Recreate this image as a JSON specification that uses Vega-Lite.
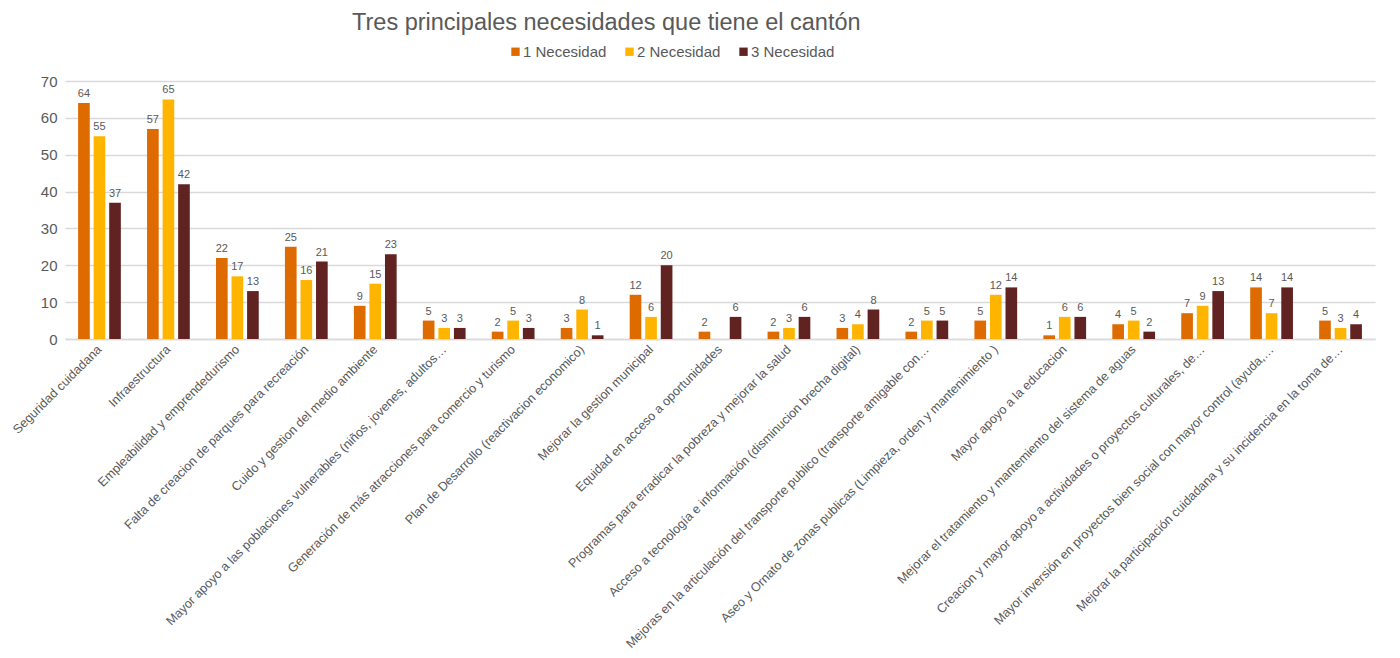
{
  "$schema": "https://vega.github.io/schema/vega-lite/v6.json",
  "autosize": {"type": "none"},
  "width": 1310,
  "height": 258,
  "padding": {"left": 65, "top": 81, "right": 25, "bottom": 319},
  "background": "white",
  "title": {
    "text": "Tres principales necesidades que tiene el cantón",
    "anchor": "start",
    "frame": "group",
    "dx": 287,
    "offset": 10,
    "font": "Liberation Sans",
    "fontSize": 23.5,
    "fontWeight": "normal",
    "color": "#595959"
  },
  "config": {
    "view": {"stroke": null},
    "font": "Liberation Sans"
  },
  "data": {
    "values": [
      {"categoria": "Seguridad cuidadana", "serie": "1 Necesidad", "valor": 64},
      {"categoria": "Seguridad cuidadana", "serie": "2 Necesidad", "valor": 55},
      {"categoria": "Seguridad cuidadana", "serie": "3 Necesidad", "valor": 37},
      {"categoria": "Infraestructura", "serie": "1 Necesidad", "valor": 57},
      {"categoria": "Infraestructura", "serie": "2 Necesidad", "valor": 65},
      {"categoria": "Infraestructura", "serie": "3 Necesidad", "valor": 42},
      {"categoria": "Empleabilidad y emprendedurismo", "serie": "1 Necesidad", "valor": 22},
      {"categoria": "Empleabilidad y emprendedurismo", "serie": "2 Necesidad", "valor": 17},
      {"categoria": "Empleabilidad y emprendedurismo", "serie": "3 Necesidad", "valor": 13},
      {"categoria": "Falta de creacion de parques para recreación", "serie": "1 Necesidad", "valor": 25},
      {"categoria": "Falta de creacion de parques para recreación", "serie": "2 Necesidad", "valor": 16},
      {"categoria": "Falta de creacion de parques para recreación", "serie": "3 Necesidad", "valor": 21},
      {"categoria": "Cuido y gestion del medio ambiente", "serie": "1 Necesidad", "valor": 9},
      {"categoria": "Cuido y gestion del medio ambiente", "serie": "2 Necesidad", "valor": 15},
      {"categoria": "Cuido y gestion del medio ambiente", "serie": "3 Necesidad", "valor": 23},
      {"categoria": "Mayor apoyo a las poblaciones vulnerables (niños, jovenes, adultos…", "serie": "1 Necesidad", "valor": 5},
      {"categoria": "Mayor apoyo a las poblaciones vulnerables (niños, jovenes, adultos…", "serie": "2 Necesidad", "valor": 3},
      {"categoria": "Mayor apoyo a las poblaciones vulnerables (niños, jovenes, adultos…", "serie": "3 Necesidad", "valor": 3},
      {"categoria": "Generación de más atracciones para comercio y turismo", "serie": "1 Necesidad", "valor": 2},
      {"categoria": "Generación de más atracciones para comercio y turismo", "serie": "2 Necesidad", "valor": 5},
      {"categoria": "Generación de más atracciones para comercio y turismo", "serie": "3 Necesidad", "valor": 3},
      {"categoria": "Plan de Desarrollo  (reactivacion economico)", "serie": "1 Necesidad", "valor": 3},
      {"categoria": "Plan de Desarrollo  (reactivacion economico)", "serie": "2 Necesidad", "valor": 8},
      {"categoria": "Plan de Desarrollo  (reactivacion economico)", "serie": "3 Necesidad", "valor": 1},
      {"categoria": "Mejorar la gestion municipal", "serie": "1 Necesidad", "valor": 12},
      {"categoria": "Mejorar la gestion municipal", "serie": "2 Necesidad", "valor": 6},
      {"categoria": "Mejorar la gestion municipal", "serie": "3 Necesidad", "valor": 20},
      {"categoria": "Equidad en acceso a  oportunidades", "serie": "1 Necesidad", "valor": 2},
      {"categoria": "Equidad en acceso a  oportunidades", "serie": "3 Necesidad", "valor": 6},
      {"categoria": "Programas para erradicar la pobreza y mejorar la salud", "serie": "1 Necesidad", "valor": 2},
      {"categoria": "Programas para erradicar la pobreza y mejorar la salud", "serie": "2 Necesidad", "valor": 3},
      {"categoria": "Programas para erradicar la pobreza y mejorar la salud", "serie": "3 Necesidad", "valor": 6},
      {"categoria": "Acceso a tecnología e información (disminucion brecha digital)", "serie": "1 Necesidad", "valor": 3},
      {"categoria": "Acceso a tecnología e información (disminucion brecha digital)", "serie": "2 Necesidad", "valor": 4},
      {"categoria": "Acceso a tecnología e información (disminucion brecha digital)", "serie": "3 Necesidad", "valor": 8},
      {"categoria": "Mejoras en la articulación del transporte publico (transporte amigable con…", "serie": "1 Necesidad", "valor": 2},
      {"categoria": "Mejoras en la articulación del transporte publico (transporte amigable con…", "serie": "2 Necesidad", "valor": 5},
      {"categoria": "Mejoras en la articulación del transporte publico (transporte amigable con…", "serie": "3 Necesidad", "valor": 5},
      {"categoria": "Aseo y Ornato de zonas publicas (Limpieza, orden y mantenimiento )", "serie": "1 Necesidad", "valor": 5},
      {"categoria": "Aseo y Ornato de zonas publicas (Limpieza, orden y mantenimiento )", "serie": "2 Necesidad", "valor": 12},
      {"categoria": "Aseo y Ornato de zonas publicas (Limpieza, orden y mantenimiento )", "serie": "3 Necesidad", "valor": 14},
      {"categoria": "Mayor apoyo a la educacion", "serie": "1 Necesidad", "valor": 1},
      {"categoria": "Mayor apoyo a la educacion", "serie": "2 Necesidad", "valor": 6},
      {"categoria": "Mayor apoyo a la educacion", "serie": "3 Necesidad", "valor": 6},
      {"categoria": "Mejorar el tratamiento y mantemiento del sistema de aguas", "serie": "1 Necesidad", "valor": 4},
      {"categoria": "Mejorar el tratamiento y mantemiento del sistema de aguas", "serie": "2 Necesidad", "valor": 5},
      {"categoria": "Mejorar el tratamiento y mantemiento del sistema de aguas", "serie": "3 Necesidad", "valor": 2},
      {"categoria": "Creacion y mayor apoyo  a actividades  o proyectos culturales, de…", "serie": "1 Necesidad", "valor": 7},
      {"categoria": "Creacion y mayor apoyo  a actividades  o proyectos culturales, de…", "serie": "2 Necesidad", "valor": 9},
      {"categoria": "Creacion y mayor apoyo  a actividades  o proyectos culturales, de…", "serie": "3 Necesidad", "valor": 13},
      {"categoria": "Mayor inversión en proyectos bien social con mayor control  (ayuda,…", "serie": "1 Necesidad", "valor": 14},
      {"categoria": "Mayor inversión en proyectos bien social con mayor control  (ayuda,…", "serie": "2 Necesidad", "valor": 7},
      {"categoria": "Mayor inversión en proyectos bien social con mayor control  (ayuda,…", "serie": "3 Necesidad", "valor": 14},
      {"categoria": "Mejorar la participación cuidadana y su incidencia en la toma de…", "serie": "1 Necesidad", "valor": 5},
      {"categoria": "Mejorar la participación cuidadana y su incidencia en la toma de…", "serie": "2 Necesidad", "valor": 3},
      {"categoria": "Mejorar la participación cuidadana y su incidencia en la toma de…", "serie": "3 Necesidad", "valor": 4}
    ]
  },
  "encoding": {
    "x": {
      "field": "categoria",
      "type": "nominal",
      "sort": null,
      "title": null,
      "scale": {"paddingInner": 0.38, "paddingOuter": 0.19},
      "axis": {
        "labelAngle": -45,
        "labelAlign": "right",
        "labelBaseline": "middle",
        "labelFontSize": 12.6,
        "labelColor": "#595959",
        "labelLimit": 700,
        "labelPadding": 8,
        "ticks": false,
        "domainColor": "#d9d9d9",
        "domainWidth": 1.3
      }
    },
    "xOffset": {
      "field": "serie",
      "type": "nominal",
      "scale": {"paddingInner": 0.25}
    },
    "y": {
      "field": "valor",
      "type": "quantitative",
      "title": null,
      "scale": {"domain": [0, 70]},
      "axis": {
        "values": [0, 10, 20, 30, 40, 50, 60, 70],
        "labelFontSize": 15,
        "labelColor": "#595959",
        "labelPadding": 8,
        "ticks": false,
        "domain": false,
        "gridColor": "#d9d9d9",
        "gridWidth": 1.3
      }
    }
  },
  "layer": [
    {
      "mark": {"type": "bar"},
      "encoding": {
        "color": {
          "field": "serie",
          "type": "nominal",
          "title": null,
          "scale": {
            "domain": ["1 Necesidad", "2 Necesidad", "3 Necesidad"],
            "range": ["#dd6b00", "#ffb400", "#612222"]
          },
          "legend": {
            "orient": "none",
            "direction": "horizontal",
            "legendX": 443,
            "legendY": -37,
            "symbolType": "square",
            "symbolSize": 70,
            "symbolStrokeWidth": 0,
            "labelFontSize": 15,
            "labelColor": "#595959",
            "labelOffset": 0,
            "columnPadding": 15
          }
        }
      }
    },
    {
      "mark": {"type": "text", "dy": -9, "fontSize": 11, "color": "#595959"},
      "encoding": {
        "text": {"field": "valor", "type": "quantitative"}
      }
    }
  ]
}
